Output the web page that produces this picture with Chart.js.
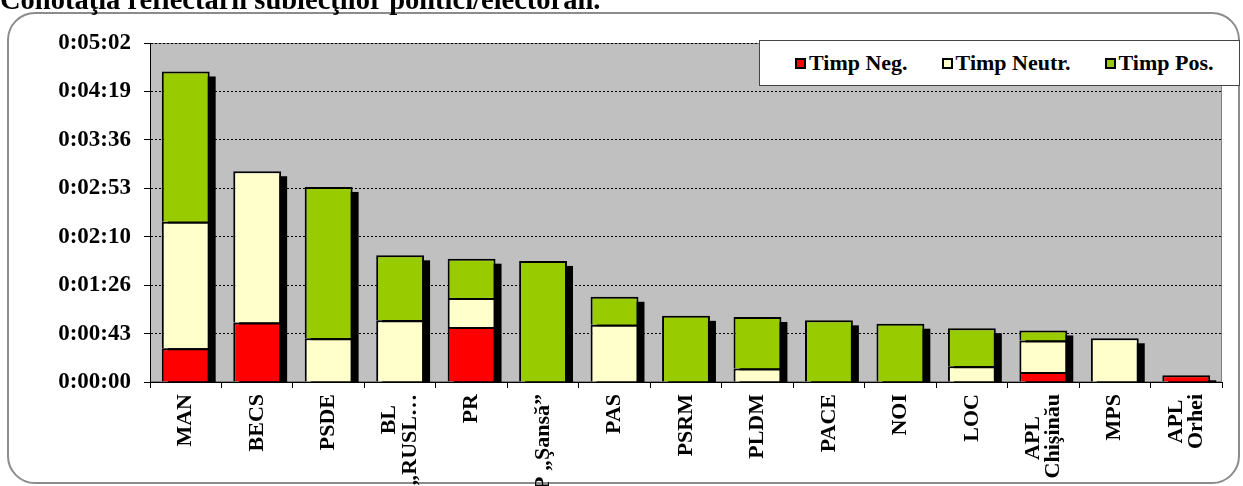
<!DOCTYPE html>
<html>
<head>
<meta charset="utf-8">
<script src="https://cdn.jsdelivr.net/npm/chart.js@4/dist/chart.umd.min.js"></script>
<style>
  html, body { margin: 0; padding: 0; background: #fff; overflow: hidden; }
  #wrap { position: relative; width: 1243px; height: 486px; overflow: hidden;
          font-family: "Liberation Serif", "Times New Roman", serif; }
  #frame { position: absolute; left: 7px; top: 12px; width: 1233px; height: 472px;
           border: 2px solid #8c8c8c; border-radius: 28px; box-sizing: border-box; }
  #chart { position: absolute; left: 0; top: 0; }
  #title { position: absolute; left: 0; top: -14px; font-size: 28.5px; line-height: 28px;
           font-weight: bold; white-space: nowrap; color: #000; }
  #legend { position: absolute; left: 759px; top: 40px; width: 481px; height: 46px;
            box-sizing: border-box; border: 1px solid #444; background: #fff;
            display: flex; align-items: center; justify-content: flex-start; gap: 34px;
            padding-left: 35px; font-size: 22px; font-weight: bold; color: #000; }
  .item { display: flex; align-items: center; }
  .sw { width: 7px; height: 7px; border: 2px solid #000; margin-right: 3px; }
</style>
</head>
<body>
<div id="wrap">
  <div id="frame"></div>
  <canvas id="chart" width="1243" height="486"></canvas>
  <div id="title">Conotaţia reflectării subiecţilor politici/electorali.</div>
  <div id="legend"></div>
</div>
<script>
// ---------- data (seconds) ----------
const categories = ['MAN', 'BECS', 'PSDE', ['BL\u2002', '„RUSL…'], 'PR', 'PP „Şansă”', 'PAS', 'PSRM',
  'PLDM', 'PACE', 'NOI', 'LOC', ['APL\u2002\u2002', 'Chişinău'], 'MPS', ['APL ', 'Orhei']];
const timpNeg   = [30, 53, 0, 0, 49, 0, 0, 0, 0, 0, 0, 0, 9, 0, 6];
const timpNeutr = [113, 135, 39, 55, 26, 0, 51, 0, 12, 0, 0, 14, 28, 39, 0];
const timpPos   = [134, 0, 135, 58, 35, 108, 25, 59, 46, 55, 52, 34, 9, 0, 0];
const seriesNames = ['Timp Neg.', 'Timp Neutr.', 'Timp Pos.'];
const seriesColors = ['#ff0000', '#ffffcc', '#99cc00'];
const yTickValues = [0, 43.2, 86.4, 129.6, 172.8, 216, 259.2, 302.4];
const yTickLabels = ['0:00:00', '0:00:43', '0:01:26', '0:02:10', '0:02:53', '0:03:36', '0:04:19', '0:05:02'];

const FONT = "'Liberation Serif', 'Times New Roman', serif";

// gray plot area with a thin border
const plotBg = {
  id: 'plotBg',
  beforeDraw(chart) {
    const { ctx, chartArea: a } = chart;
    ctx.save();
    ctx.fillStyle = '#c0c0c0';
    ctx.fillRect(a.left, a.top, a.right - a.left, a.bottom - a.top);
    ctx.strokeStyle = '#808080';
    ctx.lineWidth = 1;
    ctx.strokeRect(a.left + 0.5, a.top + 0.5, a.right - a.left - 1, a.bottom - a.top - 1);
    ctx.restore();
  }
};

// black drop shadow behind every stacked column
const barShadow = {
  id: 'barShadow',
  beforeDatasetsDraw(chart) {
    const ctx = chart.ctx;
    const zero = chart.scales.y.getPixelForValue(0);
    const metas = chart.getSortedVisibleDatasetMetas();
    ctx.save();
    ctx.fillStyle = '#000';
    categories.forEach((c, i) => {
      let top = null, bar = null;
      metas.forEach(m => {
        if (!chart.data.datasets[m.index].data[i]) return;
        const el = m.data[i];
        if (top === null || el.y < top) top = el.y;
        bar = el;
      });
      if (!bar) return;
      ctx.fillRect(bar.x - bar.width / 2 + 6, top + 5, bar.width, zero - top - 4);
    });
    ctx.restore();
  }
};

// center multi-line rotated labels on their tick (Chart.js puts the first line on it)
function centerMultiline(scale) {
  if (scale._centered) return;
  const orig = scale._computeLabelItems.bind(scale);
  scale._computeLabelItems = (area) => orig(area).map(item => {
    const n = Array.isArray(item.label) ? item.label.length : 1;
    if (n > 1) item.textOffset -= (n - 1) * item.font.lineHeight / 2;
    return item;
  });
  scale._centered = true;
}

const datasets = [timpNeg, timpNeutr, timpPos].map((data, k) => ({
  label: seriesNames[k],
  data,
  backgroundColor: seriesColors[k],
  borderColor: '#000',
  borderWidth: 2,
  barPercentage: 0.67,
  categoryPercentage: 1
}));

new Chart(document.getElementById('chart'), {
  type: 'bar',
  data: { labels: categories, datasets },
  options: {
    responsive: false,
    animation: false,
    events: [],
    layout: { padding: { left: 0, top: 43, right: 21, bottom: 0 } },
    plugins: { legend: { display: false }, tooltip: { enabled: false } },
    scales: {
      x: {
        stacked: true,
        afterFit: s => { s.height = 104; centerMultiline(s); },
        grid: { drawOnChartArea: false, drawTicks: true, tickLength: 6, color: '#000', offset: true },
        border: { display: true, color: '#000', width: 1 },
        ticks: {
          autoSkip: false, maxRotation: 90, minRotation: 90, padding: 6,
          color: '#000', font: { family: FONT, size: 22, weight: 'bold', lineHeight: 0.95 }
        }
      },
      y: {
        stacked: true,
        min: 0,
        max: 302.4,
        afterFit: s => { s.width = 150; },
        afterBuildTicks: s => { s.ticks = yTickValues.map(v => ({ value: v })); },
        grid: { color: '#000', lineWidth: 1, borderDash: [2, 2], tickLength: 6, tickBorderDash: [], tickColor: '#000' },
        border: { display: true, color: '#000', width: 1, dash: [2, 2] },
        ticks: {
          padding: 13, color: '#000',
          font: { family: FONT, size: 23, weight: 'bold' },
          callback: (v, i) => yTickLabels[i]
        }
      }
    }
  },
  plugins: [plotBg, barShadow]
});

// legend
const legend = document.getElementById('legend');
seriesNames.forEach((name, k) => {
  const item = document.createElement('div');
  item.className = 'item';
  const sw = document.createElement('span');
  sw.className = 'sw';
  sw.style.background = seriesColors[k];
  item.appendChild(sw);
  item.appendChild(document.createTextNode(name));
  legend.appendChild(item);
});
</script>
</body>
</html>
